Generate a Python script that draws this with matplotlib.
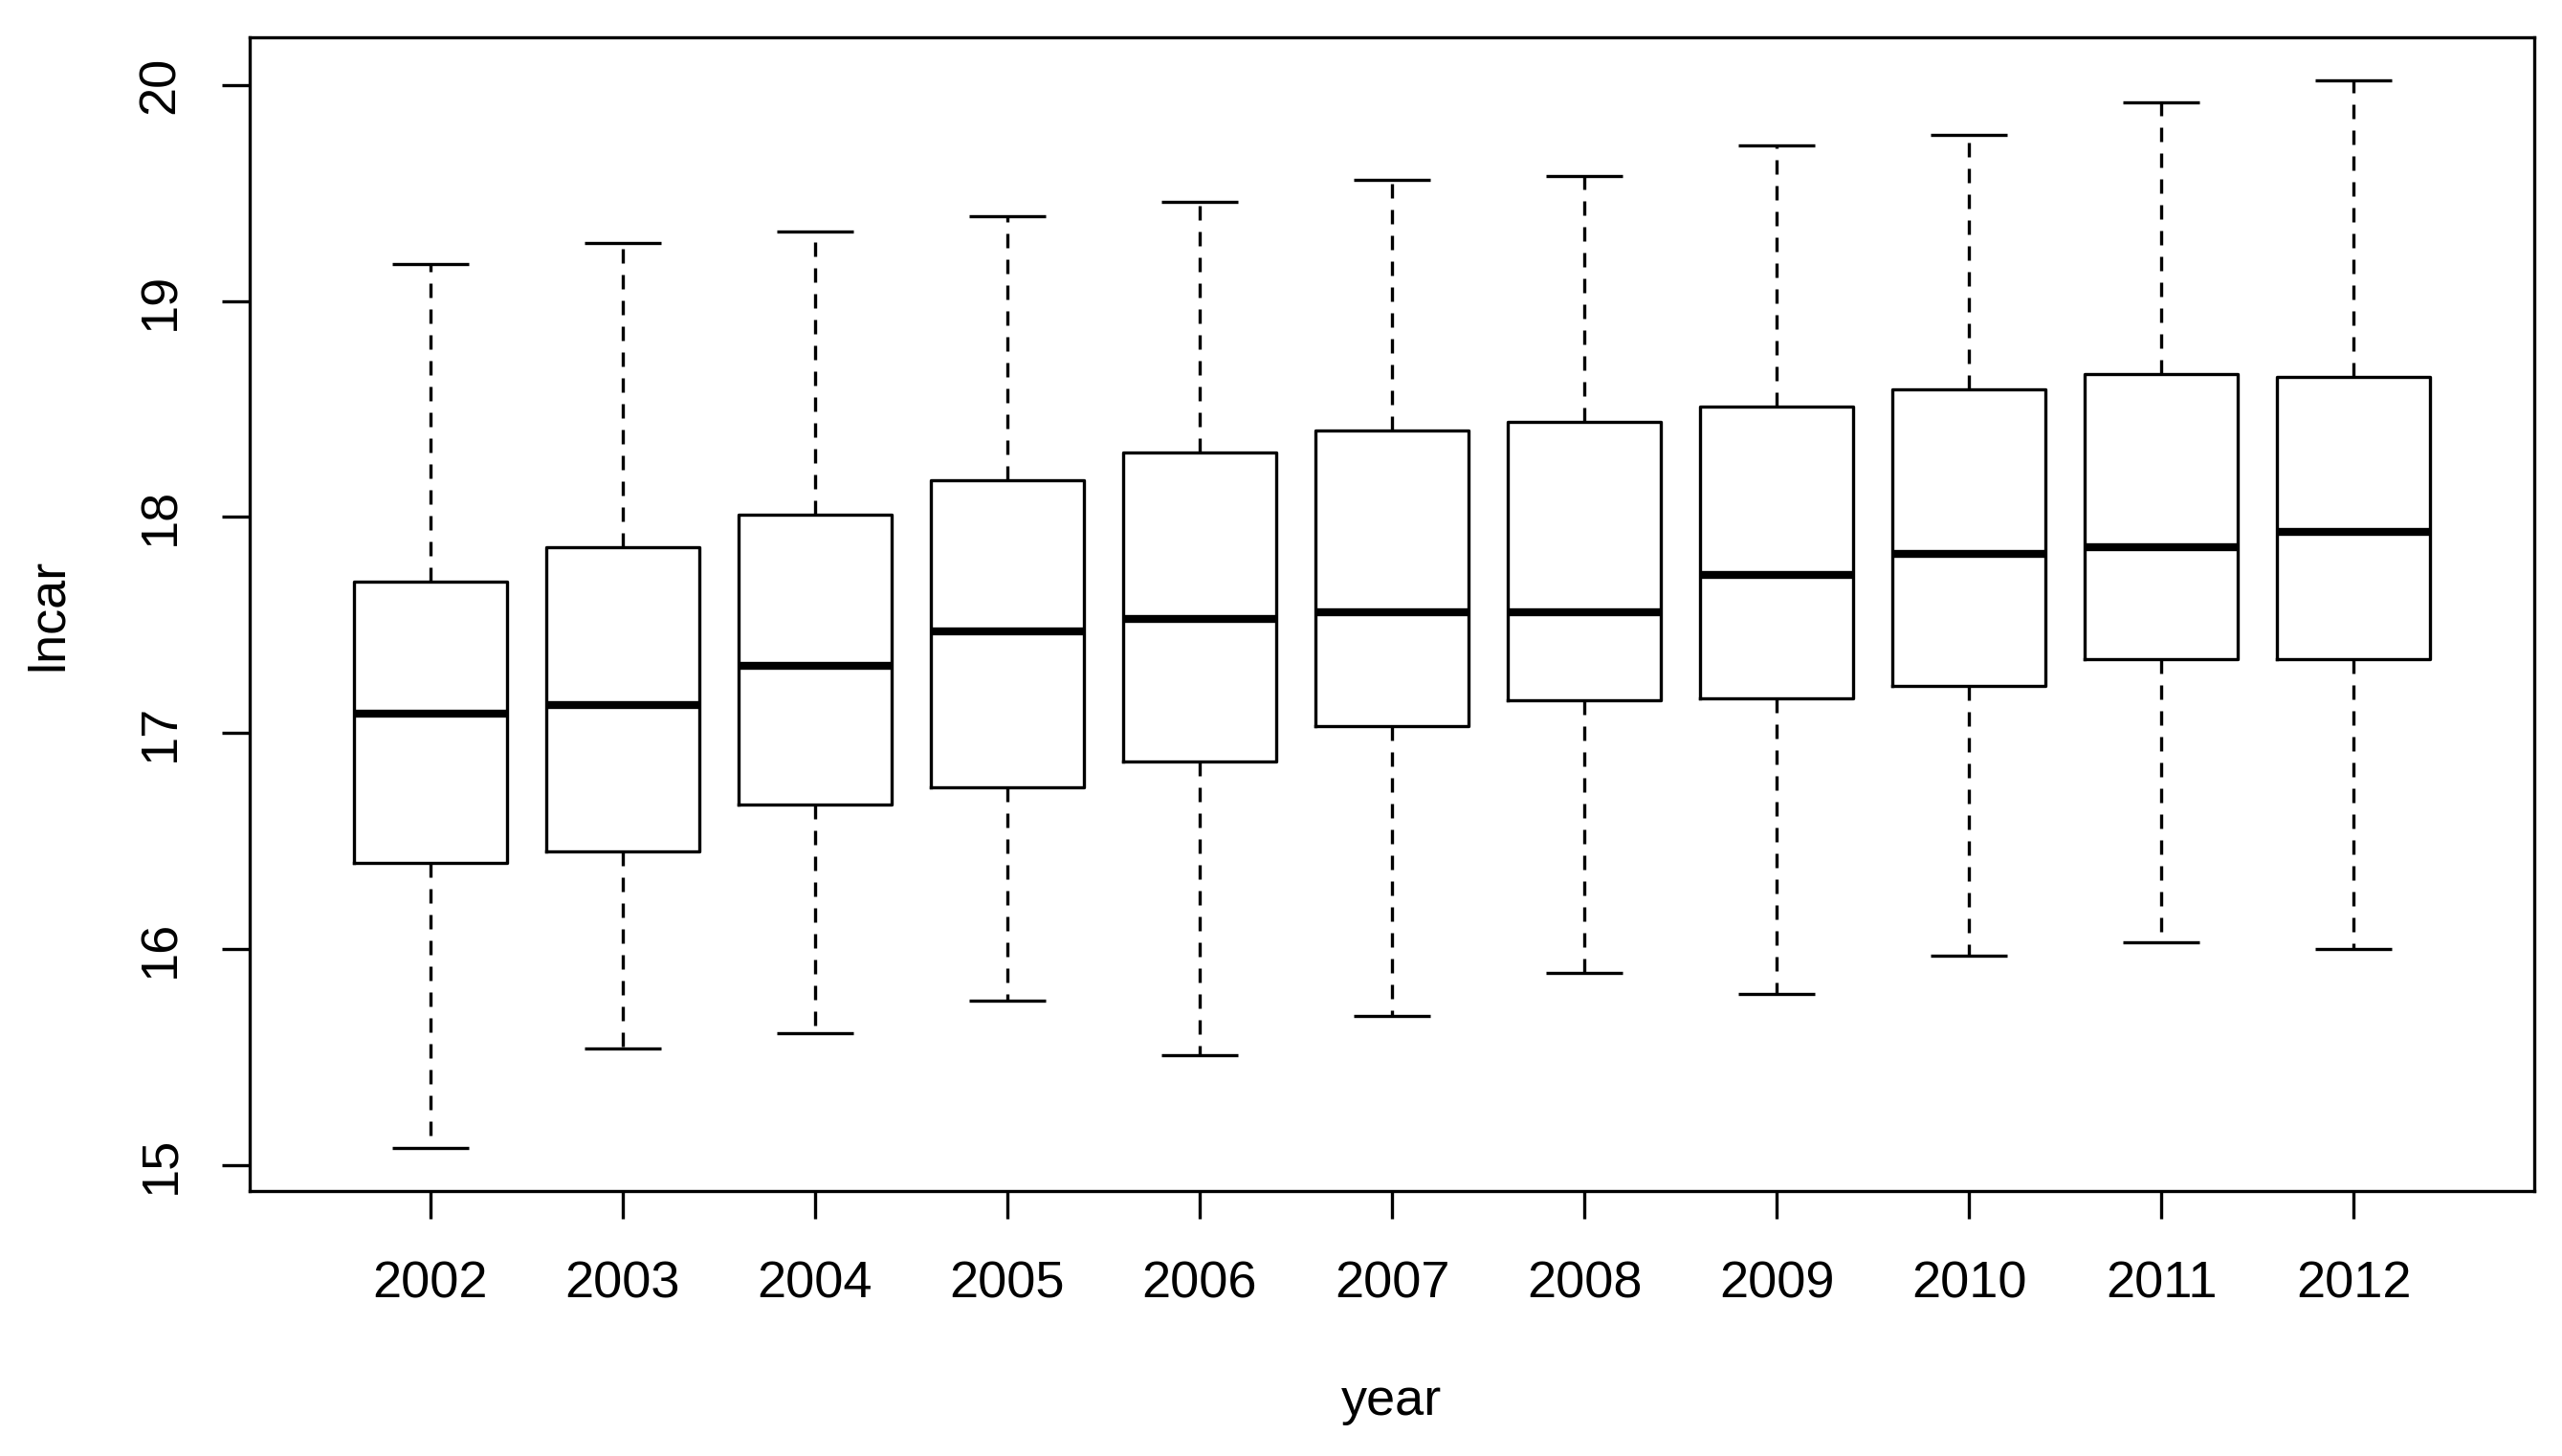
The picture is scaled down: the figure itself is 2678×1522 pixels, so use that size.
import matplotlib
matplotlib.use("Agg")
import matplotlib.pyplot as plt

plt.rcParams['font.family'] = ['Liberation Sans', 'DejaVu Sans']

years = ['2002', '2003', '2004', '2005', '2006', '2007', '2008', '2009', '2010', '2011', '2012']
whisker_low = [15.08, 15.54, 15.61, 15.76, 15.51, 15.69, 15.89, 15.79, 15.97, 16.03, 16.00]
q1 = [16.40, 16.45, 16.67, 16.75, 16.87, 17.03, 17.15, 17.16, 17.22, 17.34, 17.34]
median = [17.09, 17.13, 17.31, 17.47, 17.53, 17.56, 17.56, 17.73, 17.83, 17.86, 17.93]
q3 = [17.70, 17.86, 18.01, 18.17, 18.30, 18.40, 18.44, 18.51, 18.59, 18.66, 18.65]
whisker_high = [19.17, 19.27, 19.32, 19.39, 19.46, 19.56, 19.58, 19.72, 19.77, 19.92, 20.02]
y_ticks = [15, 16, 17, 18, 19, 20]

stats = []
for i, y in enumerate(years):
    stats.append(dict(label=y, whislo=whisker_low[i], q1=q1[i], med=median[i],
                      q3=q3[i], whishi=whisker_high[i], fliers=[]))

W, H = 2678, 1522
fig = plt.figure(figsize=(W / 100, H / 100), dpi=100)
left, right, top, bottom = 261, 2649, 39, 1245
ax = fig.add_axes([left / W, 1 - bottom / H, (right - left) / W, (bottom - top) / H])

lw = 2.4
positions = list(range(1, len(years) + 1))
ax.bxp(stats, positions=positions, widths=0.8, capwidths=0.4, showfliers=False,
       patch_artist=False,
       boxprops=dict(color='black', linewidth=lw),
       medianprops=dict(color='black', linewidth=6, solid_capstyle='butt'),
       whiskerprops=dict(color='black', linewidth=lw, linestyle=(0, (4.5, 3.6))),
       capprops=dict(color='black', linewidth=lw, solid_capstyle='butt'))

ax.set_xlim(0.06, 11.94)
ax.set_ylim(14.88, 20.22)
ax.set_xticks(positions)
ax.set_xticklabels(years)
ax.set_yticks(y_ticks)
ax.set_yticklabels([str(v) for v in y_ticks], rotation=90, va='center')

for sp in ax.spines.values():
    sp.set_linewidth(lw)
    sp.set_color('black')

ax.tick_params(axis='both', direction='out', length=21, width=lw, labelsize=39,
               colors='black')
ax.tick_params(axis='x', pad=31)
ax.tick_params(axis='y', pad=28)

fig.text(1455 / W, 1 - 1465 / H, 'year', ha='center', va='center', fontsize=39)
fig.text(51 / W, 1 - 642 / H, 'lncar', ha='center', va='center', fontsize=39, rotation=90)

fig.savefig('out.png', dpi=100, facecolor='white')
